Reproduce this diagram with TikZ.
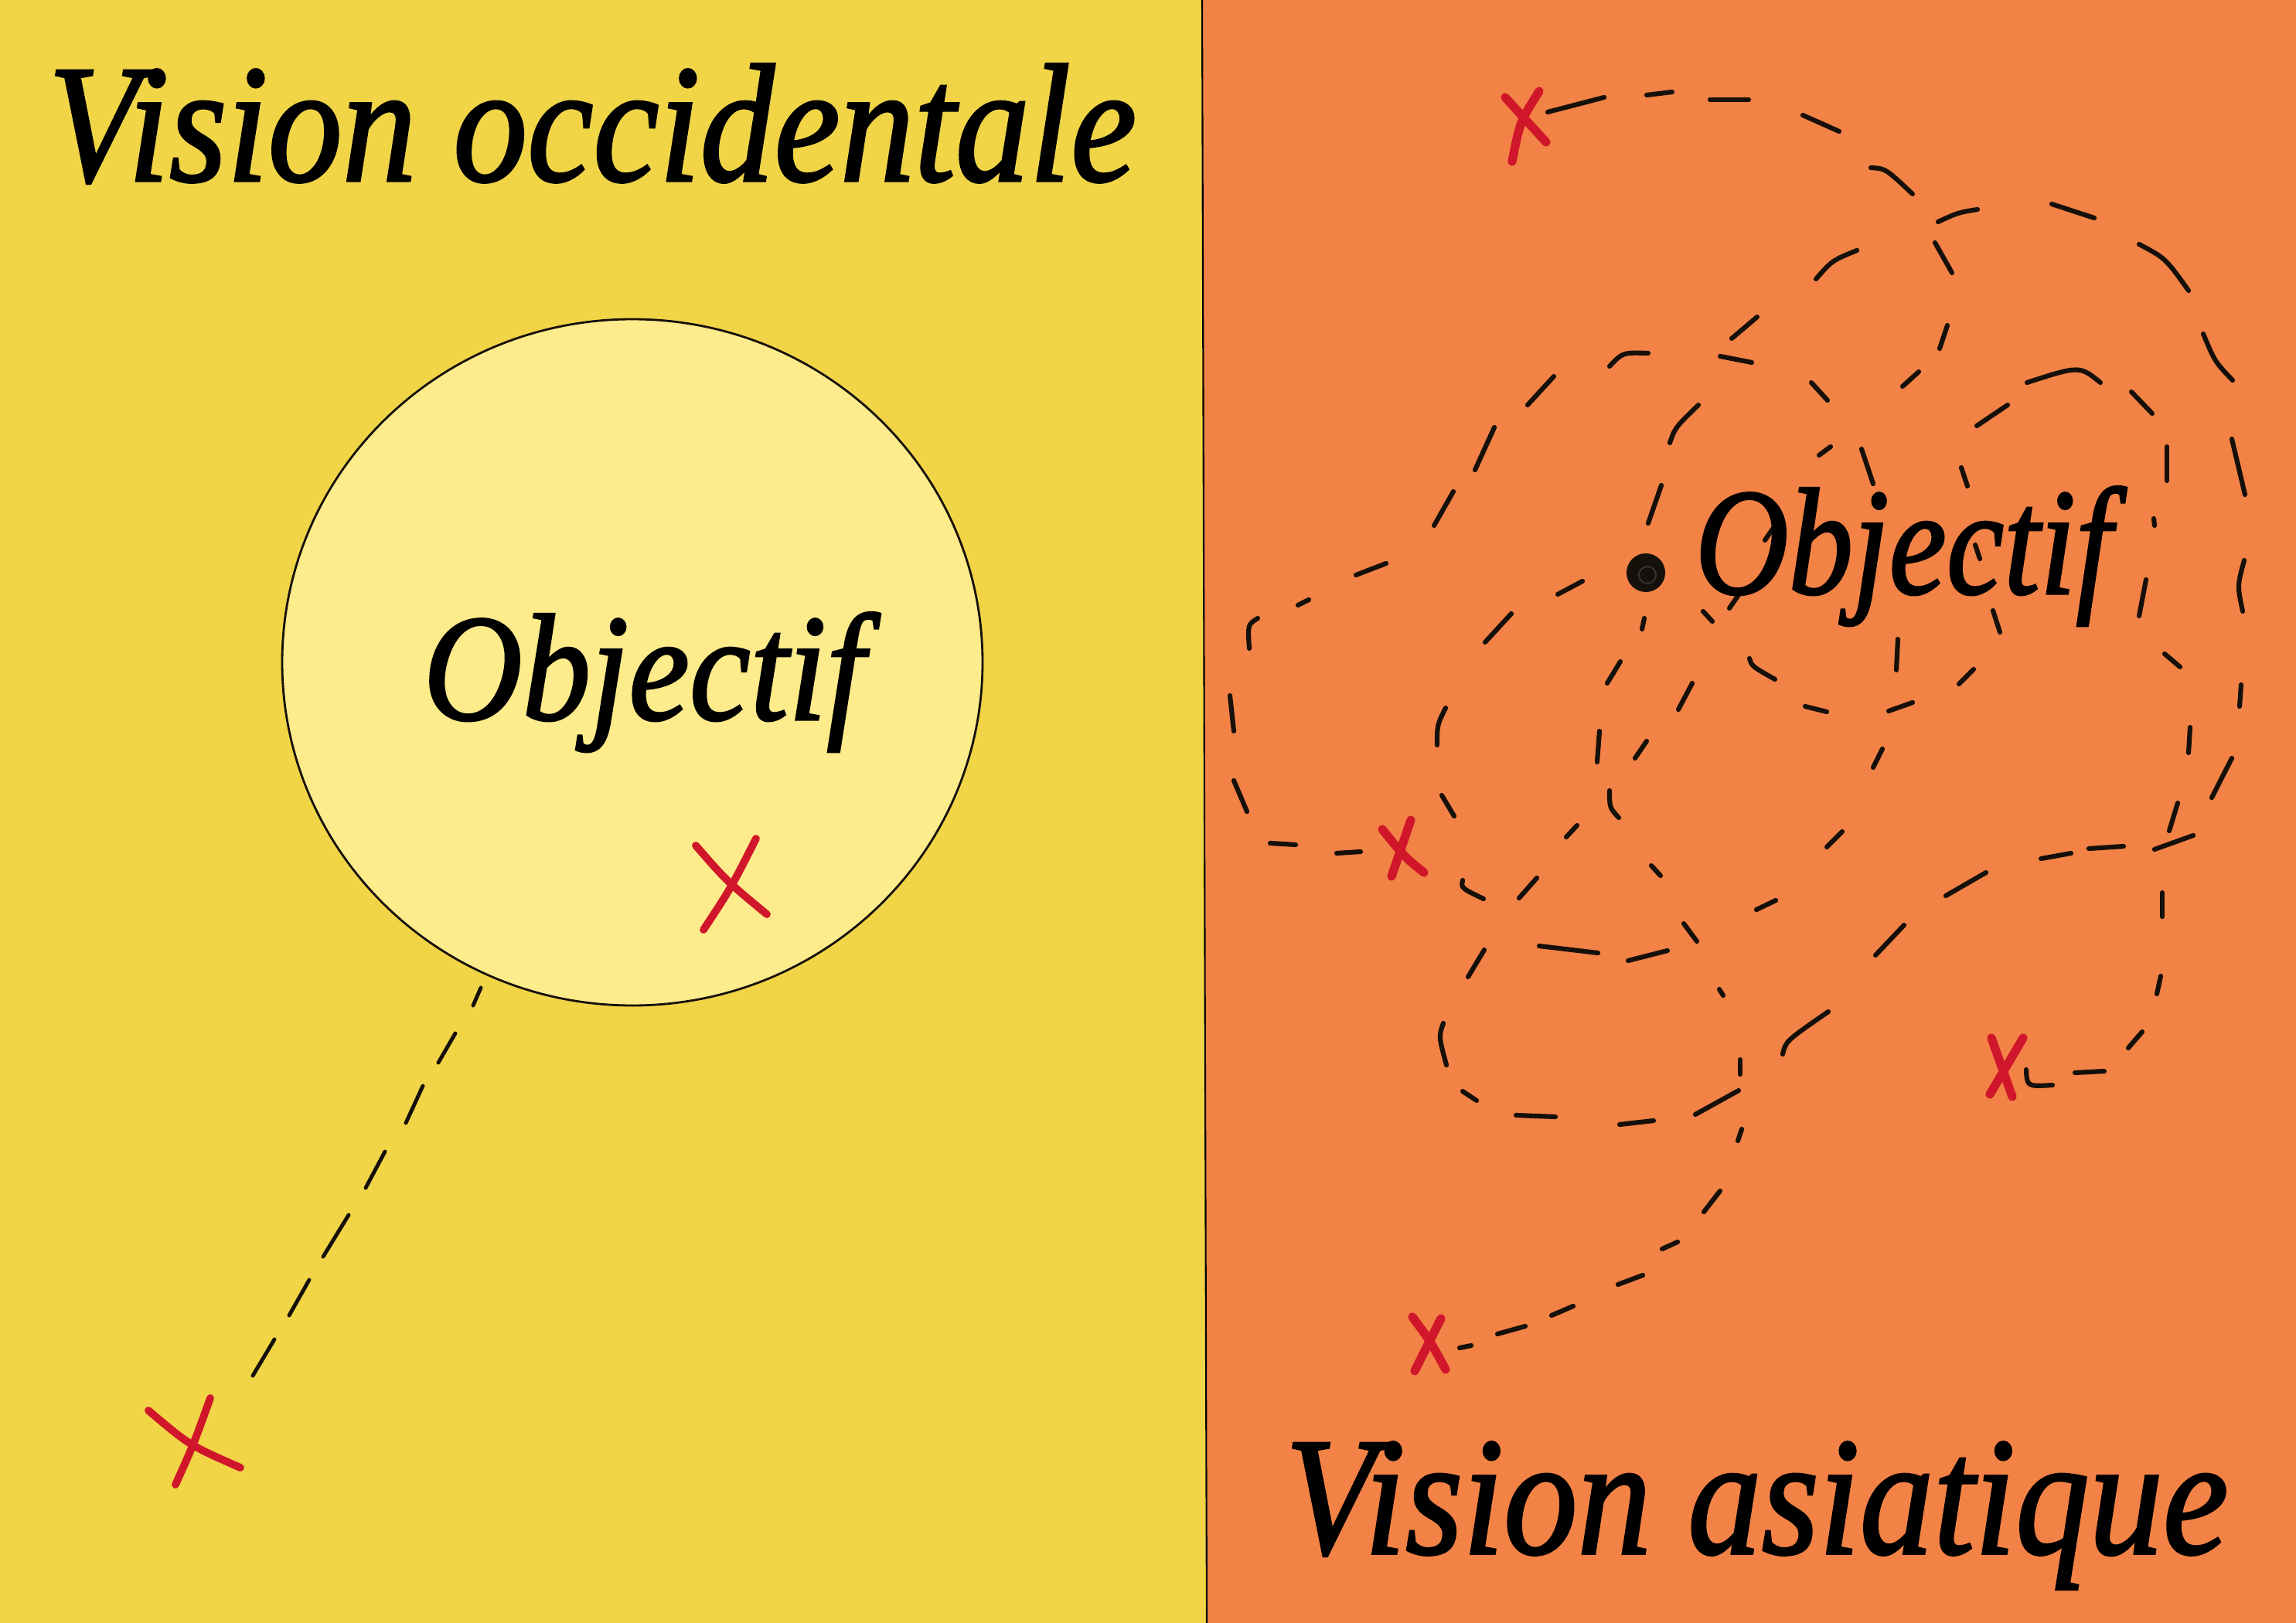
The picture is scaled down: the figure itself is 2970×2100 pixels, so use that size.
\documentclass[tikz,border=0pt]{standalone}
\usepackage{fontspec}
\setmainfont{Liberation Serif}
\newfontfamily\ttlfam{Liberation Serif}[FakeBold=1.6]
\usepackage{graphicx}
\usetikzlibrary{shapes.geometric}
\definecolor{yellowbg}{RGB}{241,213,71}
\definecolor{ellfill}{RGB}{253,235,140}
\definecolor{orangebg}{RGB}{242,130,70}
\definecolor{redc}{RGB}{208,22,42}
\definecolor{inkc}{RGB}{22,16,10}
\newcommand{\titlefont}{\ttlfam\fontsize{62pt}{62pt}\selectfont\itshape}
\newcommand{\goalfont}{\ttlfam\fontsize{56pt}{56pt}\selectfont\itshape}
\begin{document}
\begin{tikzpicture}[x=0.1mm,y=-0.1mm,
  dsh/.style={draw=inkc, line width=1.75pt, line cap=round},
  dshl/.style={draw=inkc, line width=1.4pt, line cap=round},
  redx/.style={draw=redc, line width=3.2pt, line cap=round},
  redxl/.style={draw=redc, line width=2.8pt, line cap=round},
  label/.style={anchor=base west, inner sep=0pt, text=black}]
\useasboundingbox (0,0) rectangle (2970,2100);
% backgrounds
\fill[yellowbg] (0,0) -- (1555,0) -- (1561,2100) -- (0,2100) -- cycle;
\fill[orangebg] (1555,0) -- (2970,0) -- (2970,2100) -- (1561,2100) -- cycle;
\coordinate (divtop) at (1555,0);
\coordinate (divbot) at (1561,2100);
\draw[black, line width=0.6pt] (divtop) -- (divbot);

% ---------------- left panel ----------------
\node[label] (titleL) at (62,234) {\scalebox{0.88}[1]{\titlefont Vision occidentale}};
\node[ellipse, draw=inkc, line width=0.8pt, fill=ellfill, minimum width=90.6mm, minimum height=88.8mm, inner sep=0pt] (goalL) at (818,857) {};
\node[label] (textL) at (547,931) {\scalebox{0.9}[1]{\goalfont Objectif}};
% red cross inside the goal
\draw[redxl] (900,1094) .. controls (940,1140) .. (992,1183);
\draw[redxl] (978,1085) .. controls (945,1150) .. (910,1203);
% straight dashed path from the start cross to the goal
\foreach \a/\b/\c/\d in {622/1278/612/1301, 589/1337/567/1375, 547/1405/525/1453,
  498/1490/473/1537, 451/1572/418/1626, 400/1656/374/1702, 355/1733/327/1780}
  \draw[dshl] (\a,\b) -- (\c,\d);
% start cross
\draw[redxl] (192,1825) .. controls (245,1870) .. (311,1899);
\draw[redxl] (272,1809) .. controls (250,1870) .. (227,1921);

% ---------------- right panel ----------------
% wandering dashed paths (straight dashes)
\foreach \a/\b/\c/\d in {
  2002/145/2075/126, 2130/123/2163/119, 2212/129/2262/129, 2332/149/2379/170,
  2654/264/2709/282, 2887/568/2904/640, 2887/981/2861/1032,
  2010/487/1976/524, 1933/553/1908/608, 1880/636/1855/680, 1793/729/1754/744,
  1693/776/1679/783, 1591/900/1596/946, 1596/1010/1613/1050,
  1643/1091/1676/1093, 1729/1104/1760/1102, 1955/794/1921/831, 2047/752/2015/769,
  1865/1029/1881/1056, 1965/1162/1988/1136, 2026/1083/2040/1068,
  2149/628/2132/677, 2296/680/2283/699, 2253/764/2237/787, 2203/791/2215/804,
  2127/800/2124/814, 2096/856/2079/884, 2189/884/2171/918, 2335/914/2363/921,
  2443/920/2474/909, 2455/827/2453/867, 2435/969/2423/993, 2069/946/2066/986,
  2130/959/2115/981, 2383/1076/2363/1096, 2136/1120/2148/1133, 2297/1165/2272/1177,
  2178/1195/2195/1218, 2463/1197/2426/1236, 2273/410/2240/438, 2225/461/2266/469,
  2343/495/2364/518, 2482/481/2461/500, 2368/578/2353/589, 2408/581/2423/626,
  2503/314/2525/353, 2519/421/2509/451, 2597/524/2557/551, 2757/507/2784/535,
  2803/578/2803/622, 2537/605/2545/629, 2786/671/2787/680, 2776/750/2767/797,
  2555/705/2561/723, 2578/790/2587/818, 2800/846/2820/863, 2899/886/2897/914,
  2553/866/2534/885, 2833/941/2831/974, 2817/1039/2806/1075, 2837/1081/2787/1099,
  2747/1095/2702/1098, 2679/1104/2640/1111, 2569/1129/2517/1159, 2797/1155/2797/1186,
  2795/1263/2790/1286, 2771/1335/2753/1356, 2722/1386/2684/1388,
  1920/1229/1899/1264, 1991/1224/2067/1233, 1892/1412/1910/1424, 1961/1443/2012/1445,
  2035/1690/2007/1702, 1973/1716/1937/1726, 1903/1741/1888/1744,
  2106/1243/2157/1230, 2224/1280/2229/1288, 2251/1371/2251/1390, 2139/1450/2095/1455,
  2253/1461/2248/1476, 2225/1541/2204/1568, 2170/1607/2150/1616, 2125/1650/2093/1662,
  2249/1411/2193/1442}
  \draw[dsh] (\a,\b) -- (\c,\d);
% curved dashes
\foreach \a/\b/\p/\q/\c/\d in {
  2420/217/2439/218/2474/251, 2767/316/2801/334/2831/376, 2850/432/2865/468/2888/492,
  2903/725/2894/758/2901/791, 2622/495/2690/473/2717/495, 2197/524/2167/553/2160/573,
  2402/324/2370/337/2349/361, 2132/457/2099/456/2082/474, 2507/287/2533/275/2558/271,
  2365/1309/2310/1347/2306/1364, 1867/1324/1861/1341/1871/1378,
  1627/800/1614/808/1616/839, 1870/916/1859/938/1859/964, 1892/1139/1890/1149/1919/1163,
  2263/852/2266/862/2296/879, 2082/1023/2082/1045/2094/1058, 2655/1404/2622/1406/2621/1384}
  \draw[dsh] (\a,\b) .. controls (\p,\q) .. (\c,\d);
% the goal point
\fill[inkc] (2129,741) coordinate (goalpt) circle [radius=25];
\draw[black!70!inkc!80!white, line width=0.5pt] (2131,744) circle [radius=11];
\node[label] (textR) at (2192,768) {\scalebox{0.85}[1]{\goalfont Objectif}};
% red crosses
\draw[redx] (1947,126) -- (2000,184);
\draw[redx] (1991,118) .. controls (1966,158) .. (1956,209);
\draw[redx] (1788,1073) .. controls (1817,1109) .. (1842,1129);
\draw[redx] (1825,1061) -- (1800,1134);
\draw[redx] (2576,1343) -- (2603,1419);
\draw[redx] (2617,1343) -- (2574,1416);
\draw[redx] (1827,1704) .. controls (1850,1735) .. (1870,1772);
\draw[redx] (1864,1706) -- (1830,1774);
\node[label] (titleR) at (1662,2010) {\scalebox{0.875}[1]{\titlefont Vision asiatique}};
\end{tikzpicture}
\end{document}
